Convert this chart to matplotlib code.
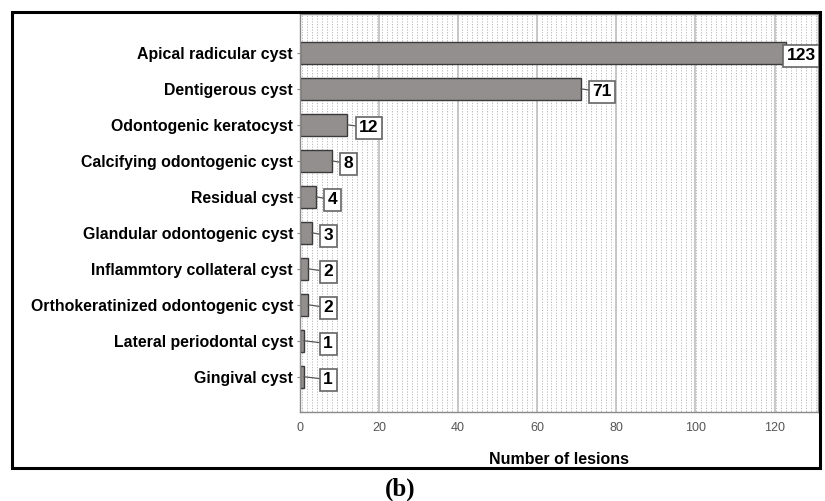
import numpy as np
import matplotlib.pyplot as plt
from matplotlib.patches import Rectangle

# Dados
categories = [
    "Apical radicular cyst",
    "Dentigerous cyst",
    "Odontogenic keratocyst",
    "Calcifying odontogenic cyst",
    "Residual cyst",
    "Glandular odontogenic cyst",
    "Inflammtory collateral cyst",
    "Orthokeratinized odontogenic cyst",
    "Lateral periodontal cyst",
    "Gingival cyst",
]
counts = [123, 71, 12, 8, 4, 3, 2, 2, 1, 1]
x_ticks = [0, 20, 40, 60, 80, 100, 120]

XMAX = 131

plt.rcParams['font.family'] = ['Liberation Sans', 'DejaVu Sans']

fig = plt.figure(figsize=(8.25, 5.01), dpi=100)
ax = fig.add_axes([300 / 825, 1 - 412 / 501, 518 / 825, 398 / 501])

y = np.arange(len(categories))

# fundo pontilhado (padrão SPSS)
ax.vlines(np.arange(0.6, XMAX, 1.26), -2, 11, colors='#b8b8b8',
          linestyles=(0, (1.2, 1.6)), linewidth=0.7, zorder=0)
for t in x_ticks[1:]:
    ax.axvline(t, color='#c4c4c4', linewidth=1.3, zorder=0.5)

ax.barh(y, counts, height=0.6, color='#948f8f', edgecolor='#3a3a3a',
        linewidth=1.0, zorder=2)

# rótulos com caixa
for yi, v in zip(y, counts):
    if v > 100:
        xt = v + 0.05
    else:
        xt = max(v + 3.0, 5.9)
    ax.annotate(str(v), xy=(v, yi), xytext=(xt, yi + 0.08),
                ha='left', va='center', fontsize=12.5, fontweight='bold',
                bbox=dict(boxstyle='square,pad=0.2', fc='white', ec='#666666', lw=1.2),
                arrowprops=dict(arrowstyle='-', color='#555555', lw=0.9,
                                shrinkA=0, shrinkB=0),
                zorder=3)

ax.set_xlim(0, XMAX)
ax.set_ylim(9.98, -1.08)
ax.set_yticks(y)
ax.set_yticklabels(categories, fontsize=11.4, fontweight='bold')
ax.set_xticks(x_ticks)
ax.tick_params(axis='x', length=0, labelsize=9, labelcolor='#555555', pad=7)
ax.tick_params(axis='y', length=2, color='#888888', pad=3)
for s in ax.spines.values():
    s.set_color('#8a8a8a')
    s.set_linewidth(1.0)

ax.set_xlabel("Number of lesions", fontsize=11.5, fontweight='bold', labelpad=13)

# moldura externa
fig.patches.append(Rectangle((12 / 825, 1 - 468 / 501), 808 / 825, 456 / 501,
                             transform=fig.transFigure, fill=False,
                             edgecolor='black', linewidth=2.2))

fig.text(400 / 825, 1 - 489 / 501, "(b)", ha='center', va='center',
         fontsize=18, fontweight='bold', family=['Liberation Serif', 'DejaVu Serif'])

fig.savefig("out.png", dpi=100)
